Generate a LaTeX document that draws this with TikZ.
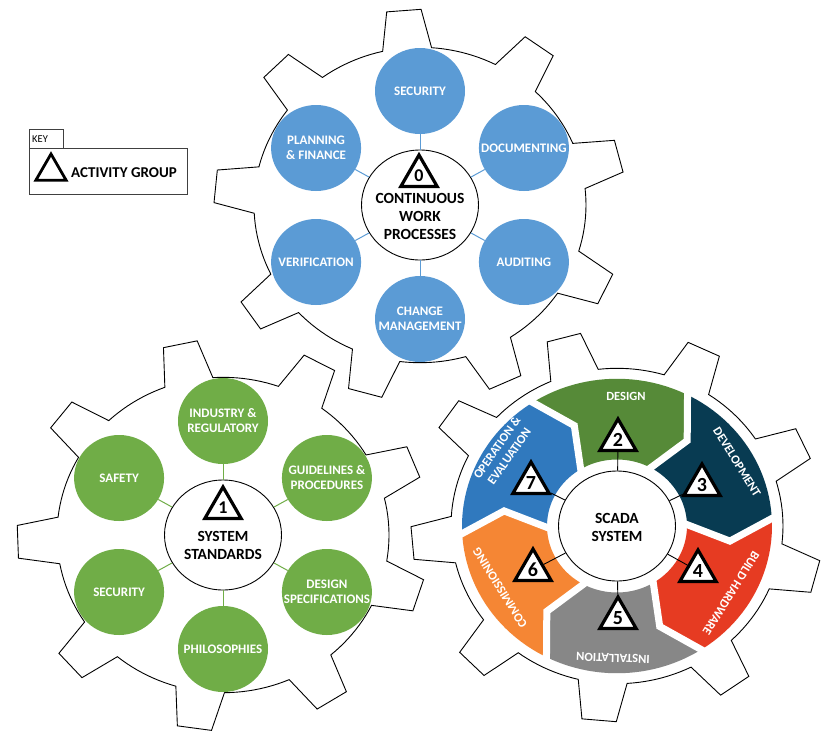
\documentclass[tikz,border=0pt]{standalone}
\usepackage{fontspec}
\setmainfont{Carlito}
\usetikzlibrary{shapes.geometric}
\definecolor{cblue}{HTML}{5B9BD5}
\definecolor{cgreen}{HTML}{70AD47}
\definecolor{cdesign}{HTML}{568A38}
\definecolor{cdev}{HTML}{083B52}
\definecolor{cbuild}{HTML}{E63B22}
\definecolor{cinst}{HTML}{878787}
\definecolor{ccomm}{HTML}{F58634}
\definecolor{cop}{HTML}{3079BE}
\definecolor{keygray}{HTML}{404040}
\tikzset{
  gearline/.style={draw=black, line width=0.9pt, fill=white, line join=miter},
  hub/.style={ellipse, draw=black, line width=0.9pt, fill=white, minimum width=117pt, minimum height=110pt, inner sep=0pt},
  bluedot/.style={ellipse, fill=cblue, minimum width=90pt, minimum height=86pt, inner sep=0pt},
  greendot/.style={bluedot, fill=cgreen},
  dottext/.style={text=white, align=center, inner sep=0pt, font=\bfseries\fontsize{13}{15}\selectfont},
  bluecon/.style={draw=cblue, line width=1pt},
  greencon/.style={draw=cgreen, line width=1pt},
  blackcon/.style={draw=black, line width=0.9pt},
  tri/.style={regular polygon, regular polygon sides=3, draw=black, fill=white, line width=3.2pt, line join=miter, minimum size=42pt, inner sep=0pt, font=\bfseries\fontsize{20}{20}\selectfont},
  hubtext/.style={align=center, inner sep=0pt, font=\bfseries\fontsize{15.5}{18}\selectfont},
  segtext/.style={text=white, align=center, inner sep=0pt, font=\bfseries\fontsize{12.5}{15}\selectfont},
}
\newcommand{\drawgear}[1]{%
  \draw[gearline] (#1-8.5:166)
    \foreach \k in {0,...,8}{
      -- (#1+40*\k-4.8:206) -- (#1+40*\k+4.8:206) -- (#1+40*\k+8.5:166)
      -- plot[domain=#1+40*\k+8.5:#1+40*\k+31.5, samples=12] (\x:166)
    } -- cycle;
}
\begin{document}
\begin{tikzpicture}[x=1pt, y=-1pt]
\fill[white] (0,0) rectangle (823,732);
\useasboundingbox (0,0) rectangle (823,732);

% ---------- gear outlines ----------
\begin{scope}[shift={(420,205)}, x=1pt, y=0.95pt]
  \drawgear{14.5}
\end{scope}
\begin{scope}[shift={(223,535)}, x=1pt, y=0.95pt]
  \drawgear{22}
\end{scope}
\begin{scope}[shift={(617,526)}, x=1pt, y=0.95pt]
  \drawgear{25}
\end{scope}

% ---------- top gear ----------
\begin{scope}[shift={(420,205)}, x=1pt, y=0.95pt]
  \node[hub] (c0) at (0,0) {};
  \node[bluedot] (sa1) at (90:120) {};
  \node[bluedot] (sa2) at (30:120) {};
  \node[bluedot] (sa3) at (-30:120) {};
  \node[bluedot] (sa4) at (-90:120) {};
  \node[bluedot] (sa5) at (210:120) {};
  \node[bluedot] (sa6) at (150:120) {};
\end{scope}
\node[dottext] (sa1t) at (sa1) {SECURITY};
\node[dottext] (sa2t) at (sa2) {DOCUMENTING};
\node[dottext] (sa3t) at (sa3) {AUDITING};
\node[dottext] (sa4t) at (sa4) {CHANGE\\MANAGEMENT};
\node[dottext] (sa5t) at (sa5) {VERIFICATION};
\node[dottext] (sa6t) at (sa6) {PLANNING\\\& FINANCE};
\foreach \s in {sa1,sa2,sa3,sa4,sa5,sa6}{\draw[bluecon] (c0) -- (\s);}
\node[tri, font=\bfseries\fontsize{18}{18}\selectfont] (t0) at (419,176) {0};
\node[hubtext] (h0) at (420,216) {CONTINUOUS\\WORK\\PROCESSES};

% ---------- left gear ----------
\begin{scope}[shift={(223,535)}, x=1pt, y=0.95pt]
  \node[hub] (c1) at (0,0) {};
  \node[greendot] (sb1) at (90:120) {};
  \node[greendot] (sb2) at (30:120) {};
  \node[greendot] (sb3) at (-30:120) {};
  \node[greendot] (sb4) at (-90:120) {};
  \node[greendot] (sb5) at (210:120) {};
  \node[greendot] (sb6) at (150:120) {};
\end{scope}
\node[dottext] (sb1t) at (sb1) {INDUSTRY \&\\REGULATORY};
\node[dottext] (sb2t) at (sb2) {GUIDELINES \&\\PROCEDURES};
\node[dottext] (sb3t) at (sb3) {DESIGN\\SPECIFICATIONS};
\node[dottext] (sb4t) at (sb4) {PHILOSOPHIES};
\node[dottext] (sb5t) at (sb5) {SECURITY};
\node[dottext] (sb6t) at (sb6) {SAFETY};
\foreach \s in {sb1,sb2,sb3,sb4,sb5,sb6}{\draw[greencon] (c1) -- (\s);}
\node[tri, font=\bfseries\fontsize{18}{18}\selectfont] (t1) at (223,508) {1};
\node[hubtext] (h1) at (223,545.5) {SYSTEM\\STANDARDS};

% ---------- right gear ----------
\begin{scope}[shift={(617,526)}, x=1pt, y=0.95pt]
  \foreach \c/\col in {94/cdesign, 34/cdev, -26/cbuild, -86/cinst, -146/ccomm, -206/cop}{
    \fill[\col] (\c+30:155) -- plot[domain=\c+30:\c-30, samples=25] (\x:155)
      -- (\c-42:114) -- (\c-30:70) -- plot[domain=\c-30:\c+30, samples=20] (\x:70)
      -- (\c+18:114) -- cycle;
  }
  \foreach \b in {4,64,124,184,244,304}{
    \draw[white, line width=7pt, line join=miter] (\b:161) -- (\b-12:114) -- (\b:63);
  }
  \node[hub] (scada) at (0,0) {};
\end{scope}
\node[hubtext] (h2) at (617,527) {SCADA\\SYSTEM};
\node[segtext] (l2) at (626,396) {DESIGN};
\node[segtext, rotate=-58] (l3) at (737,462) {DEVELOPMENT};
\node[segtext, rotate=-122] (l4) at (731,593) {BUILD HARDWARE};
\node[segtext, rotate=178] (l5) at (613,658) {INSTALLATION};
\node[segtext, rotate=122] (l6) at (500,588) {COMMISSIONING};
\node[segtext, rotate=55] (l7) at (503,452) {OPERATION \&\\EVALUATION};
\node[tri] (t2) at (618,440) {2};
\node[tri] (t3) at (702,485) {3};
\node[tri] (t4) at (698,571) {4};
\node[tri] (t5) at (618,618) {5};
\node[tri] (t6) at (533,570) {6};
\node[tri] (t7) at (531,483) {7};
\foreach \t in {t2,t3,t4,t5,t6,t7}{\draw[blackcon] (scada) -- (\t);}

% ---------- key ----------
\node[draw=keygray, line width=1pt, minimum width=34pt, minimum height=19pt, inner sep=0pt] (keyhead) at (46,138.5) {};
\node[anchor=west, inner sep=0pt, font=\fontsize{10.5}{12}\selectfont] (keytext) at (32,139) {KEY};
\node[draw=keygray, line width=1pt, minimum width=158pt, minimum height=46pt, inner sep=0pt] (keybox) at (108,171) {};
\node[tri, minimum size=35pt, line width=2.8pt] (keytri) at (51,171.5) {};
\node[anchor=west, inner sep=0pt, font=\bfseries\fontsize{15}{17}\selectfont] (keylbl) at (71,173) {ACTIVITY GROUP};
\end{tikzpicture}
\end{document}
